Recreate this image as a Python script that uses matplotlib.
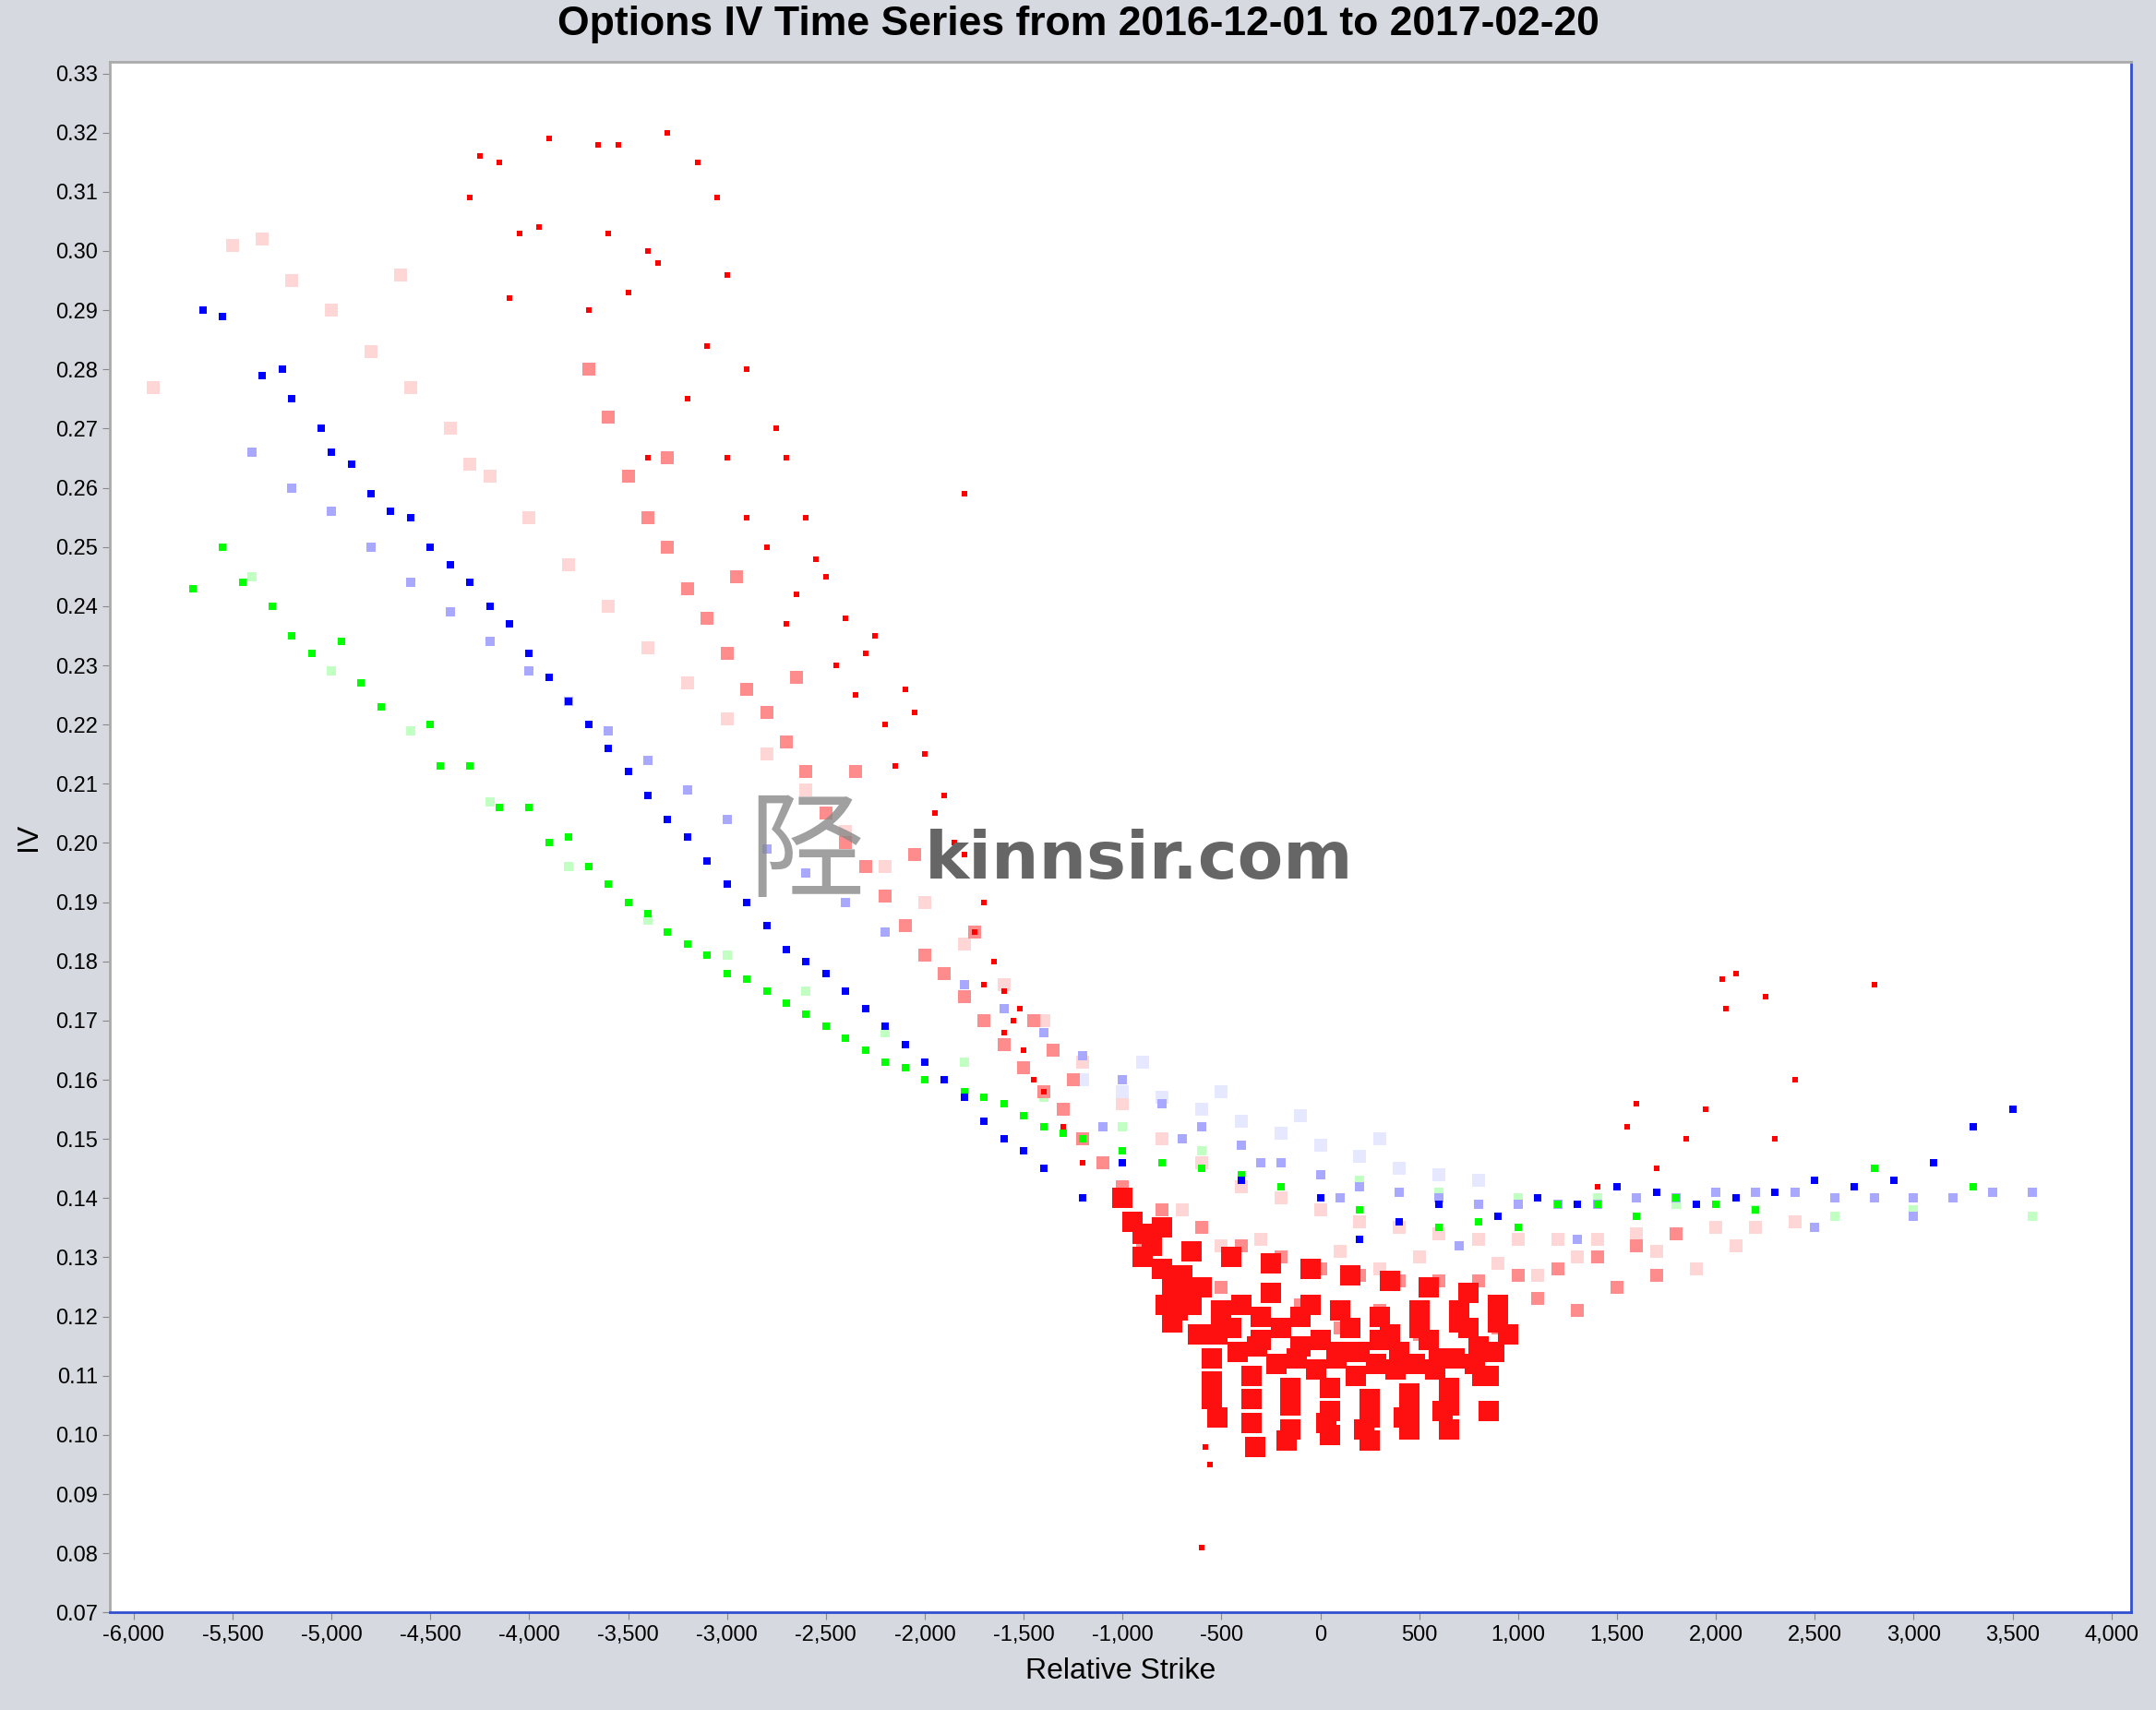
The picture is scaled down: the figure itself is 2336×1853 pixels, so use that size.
import matplotlib
matplotlib.use('Agg')
import matplotlib.pyplot as plt
from matplotlib.ticker import FuncFormatter, MultipleLocator

plt.rcParams['font.family'] = ['Liberation Sans', 'DejaVu Sans']

# ---- data (relative strike, IV) ------------------------------------------
# front month, dark red: steep wing
red_x = [-4250, -4150, -3900, -3650, -3550, -3300, -3150, -3050, -4300, -4050,
         -3950, -3400, -3350, -3000, -3600, -3500, -4100, -3700, -3100, -2900,
         -2750, -2700, -3200, -3400, -2600, -2550, -2500, -2400, -2300, -2250,
         -2100, -2050, -2000, -1900, -1800, -1700, -1650, -1600, -1550, -1500,
         -1450, -2200, -2450, -2800, -3000, -2350, -1750, -1850, -2700, -2900,
         -1800, -2650, -2150, -1950, -1700, -1600, -1520, -1400, -1300, -1200]
red_y = [0.316, 0.315, 0.319, 0.318, 0.318, 0.320, 0.315, 0.309, 0.309, 0.303,
         0.304, 0.300, 0.298, 0.296, 0.303, 0.293, 0.292, 0.290, 0.284, 0.280,
         0.270, 0.265, 0.275, 0.265, 0.255, 0.248, 0.245, 0.238, 0.232, 0.235,
         0.226, 0.222, 0.215, 0.208, 0.198, 0.190, 0.180, 0.175, 0.170, 0.165,
         0.160, 0.220, 0.230, 0.250, 0.265, 0.225, 0.185, 0.200, 0.237, 0.255,
         0.259, 0.242, 0.213, 0.205, 0.176, 0.168, 0.172, 0.158, 0.152, 0.146]
# front month, right wing and low outliers
red_r_x = [1550, 1600, 1850, 1950, 2050, 2030, 2100, 2250, 2300, 2800, 2400, 1400, 1700, -600, -560, -580]
red_r_y = [0.152, 0.156, 0.150, 0.155, 0.172, 0.177, 0.178, 0.174, 0.150, 0.176, 0.160, 0.142, 0.145, 0.081, 0.095, 0.098]
# front month, dense bottom of the smile
red_core_x = [-1000, -950, -900, -850, -800, -750, -750, -700, -650, -600, -550, -550,
              -500, -450, -400, -350, -350, -300, -250, -200, -150, -150, -100, -50,
              0, 50, 50, 100, 150, 200, 250, 250, 300, 350, 400, 450, 450, 500,
              550, 600, 650, 650, 700, 750, 800, 850, 850, 900, 950,
              -450, -250, -50, 150, 350, 550, 750, -800, -650,
              -780, -720, -620, -520, -420, -320, -220, -120, -20, 80, 180, 280,
              380, 480, 580, 680, 780, 880, -550, -350, -150, 50, 250, 450, 650,
              -520, -330, -170, 30, 220, 420, 620, 820, -900, -700, -500, -300,
              -100, 100, 300, 500, 700, 900]
red_core_y = [0.140, 0.136, 0.134, 0.132, 0.128, 0.125, 0.119, 0.127, 0.122, 0.125, 0.113, 0.106,
              0.121, 0.118, 0.122, 0.110, 0.102, 0.120, 0.124, 0.118, 0.108, 0.101, 0.120, 0.122,
              0.116, 0.108, 0.100, 0.121, 0.118, 0.114, 0.106, 0.099, 0.120, 0.117, 0.114, 0.107,
              0.101, 0.121, 0.116, 0.113, 0.108, 0.101, 0.121, 0.118, 0.115, 0.110, 0.104, 0.119,
              0.117, 0.130, 0.129, 0.128, 0.127, 0.126, 0.125, 0.124, 0.135, 0.131,
              0.122, 0.121, 0.117, 0.117, 0.114, 0.115, 0.112, 0.113, 0.111, 0.113, 0.110, 0.112,
              0.111, 0.112, 0.111, 0.113, 0.112, 0.114, 0.109, 0.106, 0.105, 0.104, 0.103, 0.104,
              0.105, 0.103, 0.098, 0.099, 0.102, 0.101, 0.103, 0.104, 0.110, 0.130, 0.124, 0.119,
              0.116, 0.115, 0.114, 0.116, 0.118, 0.119, 0.122]
# second month, salmon
salmon_x = [-3700, -3600, -3500, -3400, -3300, -3200, -3100, -3000, -2900, -2800,
            -2700, -2600, -2500, -2400, -2300, -2200, -2100, -2000, -1900, -1800,
            -1700, -1600, -1500, -1400, -1300, -1200, -1100, -3300, -2950, -2650,
            -2350, -2050, -1750, -1450, -1000, -800, -600, -400, -200, 0, 200, 400,
            600, 800, 1000, 1200, 1400, 1600, 1800, -700, -300, 100, 500, 900, 1300,
            -900, -500, -100, 300, 700, 1100, 1500, 1700, -1250, -1350]
salmon_y = [0.280, 0.272, 0.262, 0.255, 0.250, 0.243, 0.238, 0.232, 0.226, 0.222,
            0.217, 0.212, 0.205, 0.200, 0.196, 0.191, 0.186, 0.181, 0.178, 0.174,
            0.170, 0.166, 0.162, 0.158, 0.155, 0.150, 0.146, 0.265, 0.245, 0.228,
            0.212, 0.198, 0.185, 0.170, 0.142, 0.138, 0.135, 0.132, 0.130, 0.128, 0.127,
            0.126, 0.126, 0.126, 0.127, 0.128, 0.130, 0.132, 0.134, 0.127, 0.120, 0.118,
            0.117, 0.118, 0.121, 0.132, 0.125, 0.122, 0.121, 0.121, 0.123, 0.125, 0.127,
            0.160, 0.165]
# third month, pale pink
pink_x = [-5500, -5350, -5200, -5000, -4800, -4600, -4400, -4200, -4000, -3800,
          -3600, -3400, -3200, -3000, -2800, -2600, -2400, -2200, -2000, -1800,
          -1600, -1400, -1200, -1000, -800, -600, -400, -200, 0, 200, 400, 600,
          800, 1000, 1200, 1400, 1600, 1800, 2000, 2200, 2400, -5900, -4650, -4300,
          -500, 300, 1100, 1900, -700, -300, 100, 500, 900, 1300, 1700, 2100]
pink_y = [0.301, 0.302, 0.295, 0.290, 0.283, 0.277, 0.270, 0.262, 0.255, 0.247,
          0.240, 0.233, 0.227, 0.221, 0.215, 0.209, 0.202, 0.196, 0.190, 0.183,
          0.176, 0.170, 0.163, 0.156, 0.150, 0.146, 0.142, 0.140, 0.138, 0.136, 0.135,
          0.134, 0.133, 0.133, 0.133, 0.133, 0.134, 0.134, 0.135, 0.135, 0.136, 0.277,
          0.296, 0.264, 0.132, 0.128, 0.127, 0.128, 0.138, 0.133, 0.131, 0.130, 0.129,
          0.130, 0.131, 0.132]
# dark blue
blue_x = [-5650, -5550, -5350, -5250, -5200, -5050, -5000, -4900, -4800, -4700,
          -4600, -4500, -4400, -4300, -4200, -4100, -4000, -3900, -3800, -3700,
          -3600, -3500, -3400, -3300, -3200, -3100, -3000, -2900, -2800, -2700,
          -2600, -2500, -2400, -2300, -2200, -2100, -2000, -1900, -1800, -1700,
          -1600, -1500, -1400, -1200, -1000, 200, 600, 900, 1100, 1300, 1500, 1700,
          1900, 2100, 2300, 2500, 2700, 2900, 3100, 3300, 3500, -400, 0, 400]
blue_y = [0.290, 0.289, 0.279, 0.280, 0.275, 0.270, 0.266, 0.264, 0.259, 0.256,
          0.255, 0.250, 0.247, 0.244, 0.240, 0.237, 0.232, 0.228, 0.224, 0.220,
          0.216, 0.212, 0.208, 0.204, 0.201, 0.197, 0.193, 0.190, 0.186, 0.182,
          0.180, 0.178, 0.175, 0.172, 0.169, 0.166, 0.163, 0.160, 0.157, 0.153,
          0.150, 0.148, 0.145, 0.140, 0.146, 0.133, 0.139, 0.137, 0.140, 0.139, 0.142,
          0.141, 0.139, 0.140, 0.141, 0.143, 0.142, 0.143, 0.146, 0.152, 0.155, 0.143,
          0.140, 0.136]
# light blue
lblue_x = [-5400, -5200, -5000, -4800, -4600, -4400, -4200, -4000, -3800, -3600,
           -3400, -3200, -3000, -2800, -2600, -2400, -2200, -2000, -1800, -1600,
           -1400, -1200, -1000, -800, -600, -400, -200, 0, 200, 400, 600, 800,
           1000, 1200, 1400, 1600, 1800, 2000, 2200, 2400, 2600, 2800, 3000, 3200,
           3400, 3600, -1100, -700, -300, 100, 700, 1300, 2500, 3000]
lblue_y = [0.266, 0.260, 0.256, 0.250, 0.244, 0.239, 0.234, 0.229, 0.224, 0.219,
           0.214, 0.209, 0.204, 0.199, 0.195, 0.190, 0.185, 0.181, 0.176, 0.172,
           0.168, 0.164, 0.160, 0.156, 0.152, 0.149, 0.146, 0.144, 0.142, 0.141,
           0.140, 0.139, 0.139, 0.139, 0.139, 0.140, 0.140, 0.141, 0.141, 0.141, 0.140,
           0.140, 0.140, 0.140, 0.141, 0.141, 0.152, 0.150, 0.146, 0.140, 0.132, 0.133,
           0.135, 0.137]
# faint blue haze above
fblue_x = [-1200, -1000, -800, -600, -400, -200, 0, 200, 400, 600, 800, -900, -500, -100, 300]
fblue_y = [0.160, 0.158, 0.157, 0.155, 0.153, 0.151, 0.149, 0.147, 0.145, 0.144, 0.143, 0.163, 0.158, 0.154, 0.150]
# green
green_x = [-5700, -5550, -5450, -5300, -5200, -5100, -4950, -4850, -4750, -4500,
           -4450, -4300, -4150, -4000, -3900, -3800, -3700, -3600, -3500, -3400,
           -3300, -3200, -3100, -3000, -2900, -2800, -2700, -2600, -2500, -2400,
           -2300, -2200, -2100, -2000, -1900, -1800, -1700, -1600, -1500, -1400,
           -1300, -1200, -1000, -800, -600, -400, -200, 0, 200, 400, 600, 800,
           1000, 1200, 1400, 1600, 1800, 2000, 2200, 2800, 3300]
green_y = [0.243, 0.250, 0.244, 0.240, 0.235, 0.232, 0.234, 0.227, 0.223, 0.220,
           0.213, 0.213, 0.206, 0.206, 0.200, 0.201, 0.196, 0.193, 0.190, 0.188,
           0.185, 0.183, 0.181, 0.178, 0.177, 0.175, 0.173, 0.171, 0.169, 0.167,
           0.165, 0.163, 0.162, 0.160, 0.160, 0.158, 0.157, 0.156, 0.154, 0.152,
           0.151, 0.150, 0.148, 0.146, 0.145, 0.144, 0.142, 0.140, 0.138, 0.136, 0.135,
           0.136, 0.135, 0.139, 0.139, 0.137, 0.140, 0.139, 0.138, 0.145, 0.142]
# light green
lgreen_x = [-5400, -5000, -4600, -4200, -3800, -3400, -3000, -2600, -2200, -1800,
            -1400, -1000, -600, -200, 200, 600, 1000, 1400, 1800, 2200, 2600, 3000, 3600]
lgreen_y = [0.245, 0.229, 0.219, 0.207, 0.196, 0.187, 0.181, 0.175, 0.168, 0.163,
            0.157, 0.152, 0.148, 0.146, 0.143, 0.141, 0.140, 0.140, 0.139, 0.138,
            0.137, 0.138, 0.137]

# ---- figure ---------------------------------------------------------------
BG = '#d6d9e0'
fig = plt.figure(figsize=(23.36, 18.53), dpi=100, facecolor=BG)
ax = fig.add_axes([0.051, 0.057, 0.9375, 0.907])
ax.set_facecolor('white')

layers = [
    (pink_x, pink_y, '#ffd6d6', 110),
    (fblue_x, fblue_y, '#e6e8ff', 110),
    (lgreen_x, lgreen_y, '#c2ffc2', 50),
    (lblue_x, lblue_y, '#a8a8ff', 60),
    (salmon_x, salmon_y, '#ff8c8c', 110),
    (green_x, green_y, '#00ff00', 40),
    (blue_x, blue_y, '#0000ff', 36),
    (red_x, red_y, '#ff0000', 24),
    (red_r_x, red_r_y, '#ff0000', 24),
    (red_core_x, red_core_y, '#ff1010', 230),
]
for xs, ys, col, size in layers:
    ax.scatter(xs, ys, s=size, c=col, marker='s', linewidths=0)

ax.set_xlim(-6120, 4100)
ax.set_ylim(0.07, 0.332)
ax.xaxis.set_major_locator(MultipleLocator(500))
ax.yaxis.set_major_locator(MultipleLocator(0.01))
ax.xaxis.set_major_formatter(FuncFormatter(lambda v, p: f'{int(round(v)):,}'))
ax.yaxis.set_major_formatter(FuncFormatter(lambda v, p: f'{v:.2f}'))
ax.tick_params(labelsize=17, length=6, color='#888888')
for s in ['left', 'top']:
    ax.spines[s].set_color('#aaaaaa')
ax.spines['bottom'].set_color('#3050d0')
ax.spines['right'].set_color('#3050d0')
for s in ax.spines.values():
    s.set_linewidth(2)

ax.set_xlabel('Relative Strike', fontsize=23, labelpad=10)
ax.set_ylabel('IV', fontsize=23, labelpad=10)
fig.suptitle('Options IV Time Series from 2016-12-01 to 2017-02-20',
             fontsize=32, fontweight='bold', y=0.997)

# watermark
ax.text(-2000, 0.197, 'kinnsir.com', fontsize=52, fontweight='bold',
        color='#666666', ha='left', va='center', family=['DejaVu Sans'])
ax.text(-2600, 0.198, '陉', fontsize=90, color='#888888', alpha=0.8,
        ha='center', va='center', family=['Noto Sans CJK SC', 'DejaVu Sans'])

fig.savefig('out.png', dpi=100, facecolor=BG)
